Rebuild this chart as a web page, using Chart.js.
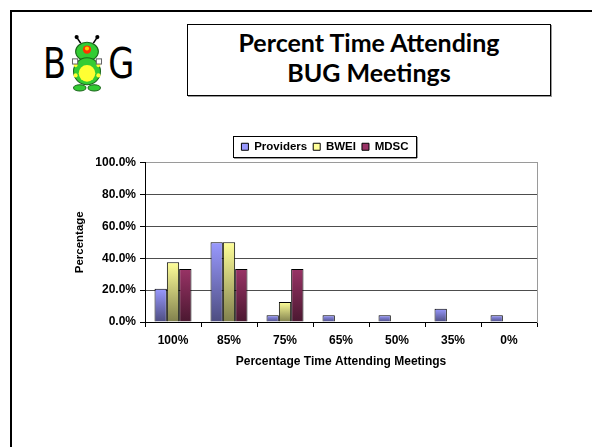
<!DOCTYPE html>
<html><head><meta charset="utf-8">
<script src="https://cdn.jsdelivr.net/npm/chart.js@4"></script>
<style>
html,body{margin:0;padding:0;background:#fff;width:592px;height:447px;overflow:hidden;position:relative;}
#frame{position:absolute;left:10px;top:10px;width:620px;height:480px;border-left:2px solid #000;border-top:2px solid #000;}
#titlebox{position:absolute;left:187px;top:24px;width:364px;height:72px;border:1px solid #000;box-shadow:1px 1px 0 #9a9a9a;
  font-family:Lato,"Open Sans",sans-serif;font-weight:bold;font-size:25px;text-align:center;line-height:30px;color:#000;box-sizing:border-box;padding-top:2px;}
#logo{position:absolute;left:40px;top:33px;height:60px;display:flex;align-items:center;font-family:"DejaVu Sans",sans-serif;font-size:42px;color:#000;}
#logo span{display:inline-block;transform:scaleX(0.8);}
#c{position:absolute;left:0;top:0;}
</style></head>
<body>
<div id="frame"></div>
<div id="logo"><span>B</span>
<svg width="36" height="58" viewBox="0 0 34 56">
 <line x1="11" y1="9" x2="7" y2="3" stroke="#000" stroke-width="1.5"/>
 <line x1="23" y1="9" x2="27" y2="3" stroke="#000" stroke-width="1.5"/>
 <circle cx="7" cy="3" r="2" fill="#000"/><circle cx="27" cy="3" r="2" fill="#000"/>
 <ellipse cx="17" cy="17" rx="11" ry="9" fill="#33cc33" stroke="#1a661a"/>
 <circle cx="17" cy="15" r="4" fill="#ff3300"/><circle cx="17" cy="14" r="2" fill="#ffcc00"/>
 <ellipse cx="17" cy="36" rx="13" ry="13" fill="#33cc33" stroke="#1a661a"/>
 <ellipse cx="17" cy="38" rx="8" ry="8" fill="#ffff33"/>
 <circle cx="6" cy="30" r="2" fill="#ffff33"/><circle cx="28" cy="30" r="2" fill="#ffff33"/>
 <circle cx="6" cy="40" r="2" fill="#ffff33"/><circle cx="28" cy="40" r="2" fill="#ffff33"/>
 <rect x="3" y="24" width="5" height="5" fill="#fff" stroke="#666"/><rect x="26" y="24" width="5" height="5" fill="#fff" stroke="#666"/>
 <ellipse cx="10" cy="52" rx="6" ry="3" fill="#33cc33" stroke="#1a661a"/>
 <ellipse cx="24" cy="52" rx="6" ry="3" fill="#33cc33" stroke="#1a661a"/>
</svg>
<span>G</span></div>
<div id="titlebox">Percent Time Attending<br>BUG Meetings</div>
<canvas id="c" width="592" height="447"></canvas>
<script>
const categories = ['100%', '85%', '75%', '65%', '50%', '35%', '0%'];
const seriesNames = ['Providers', 'BWEI', 'MDSC'];
const providers = [20.8, 50.0, 4.2, 4.2, 4.2, 8.3, 4.2];
const bwei = [37.5, 50.0, 12.5, 0, 0, 0, 0];
const mdsc = [33.3, 33.3, 33.3, 0, 0, 0, 0];
const yTickValues = [0, 20, 40, 60, 80, 100];
const topColors = ['#9999FF', '#FFFF99', '#993366'];
const bottomColors = ['#4D4D80', '#80804D', '#4A1830'];

const FONT = 'Liberation Sans, Arial, sans-serif';

function grad(top, bottom) {
  return ctx => {
    const chart = ctx.chart;
    if (!chart.chartArea || ctx.type !== 'data') return top;
    const ys = chart.scales.y;
    const v = ctx.raw;
    const p0 = ys.getPixelForValue(v), p1 = ys.getPixelForValue(0);
    if (!isFinite(p0) || p1 - p0 < 1) return top;
    const g = chart.ctx.createLinearGradient(0, p0, 0, p1);
    g.addColorStop(0, top); g.addColorStop(1, bottom);
    return g;
  };
}

const seriesData = [providers, bwei, mdsc];
const datasets = seriesData.map((d, i) => ({
  label: seriesNames[i],
  data: d,
  backgroundColor: grad(topColors[i], bottomColors[i]),
  borderColor: '#000',
  borderWidth: ctx => (ctx.raw ? 1 : 0),
  borderSkipped: 'bottom'
}));

const legendFrame = {
  id: 'legendFrame',
  afterLayout(chart) {
    const lg = chart.legend;
    const dx = 325 - (lg.left + lg.right) / 2;
    lg.left += dx; lg.right += dx;
  },
  afterDraw(chart) {
    const hb = chart.legend.legendHitBoxes;
    if (!hb || !hb.length) return;
    const l = hb[0].left, r = hb[hb.length - 1].left + hb[hb.length - 1].width;
    const t = hb[0].top, h = hb[0].height;
    const c = chart.ctx;
    const x0 = Math.round(l - 8), y0 = Math.round(t - 5), w = Math.round(r - l + 16), hh = Math.round(h + 9);
    c.save();
    c.strokeStyle = '#000'; c.lineWidth = 1;
    c.strokeRect(x0 + 0.5, y0 + 0.5, w, hh);
    c.fillStyle = '#9a9a9a';
    c.fillRect(x0 + 1, y0 + hh + 1, w, 1);
    c.fillRect(x0 + w + 1, y0 + 1, 1, hh);
    c.restore();
  }
};

new Chart(document.getElementById('c'), {
  type: 'bar',
  data: { labels: categories, datasets },
  plugins: [legendFrame],
  options: {
    responsive: false,
    animation: false,
    layout: { padding: { top: 135, left: 69, right: 55, bottom: 78 } },
    datasets: { bar: { categoryPercentage: 0.66, barPercentage: 1.0 } },
    plugins: {
      tooltip: { enabled: false },
      legend: {
        position: 'top',
        labels: {
          boxWidth: 7, boxHeight: 7, padding: 6,
          color: '#000',
          font: { family: FONT, weight: 'bold', size: 11.5 },
          generateLabels: chart => seriesNames.map((n, i) => ({
            text: n, fillStyle: topColors[i], strokeStyle: '#000', lineWidth: 1,
            datasetIndex: i, hidden: false
          }))
        }
      }
    },
    scales: {
      x: {
        grid: { offset: true, drawOnChartArea: false, drawTicks: true, tickLength: 5, color: '#000' },
        border: { color: '#000', width: 1 },
        ticks: { color: '#000', padding: 6, font: { family: FONT, weight: 'bold', size: 12 } },
        title: { display: true, text: 'Percentage Time Attending Meetings', color: '#000',
                 font: { family: FONT, weight: 'bold', size: 12 }, padding: { top: 4, bottom: 0 } },
        afterFit: s => { s.height = 47; }
      },
      y: {
        min: 0, max: 100,
        afterBuildTicks: s => { s.ticks = yTickValues.map(v => ({ value: v })); },
        ticks: { color: '#000', padding: 4, font: { family: FONT, weight: 'bold', size: 12 },
                 callback: v => v.toFixed(1) + '%' },
        grid: { color: ctx => (ctx.tick && ctx.tick.value === 100 ? '#9a9a9a' : '#4d4d4d'),
                tickColor: '#000', tickLength: 5, drawTicks: true, lineWidth: 1 },
        border: { color: '#000', width: 1 },
        title: { display: true, text: 'Percentage', color: '#000',
                 font: { family: FONT, weight: 'bold', size: 11.5 }, padding: { top: 4, bottom: 4 } },
        afterFit: s => { s.width = 145 - 69; }
      },
      y2: {
        position: 'right', min: 0, max: 100,
        grid: { display: false },
        ticks: { display: false },
        border: { display: true, color: '#9a9a9a', width: 1 },
        afterFit: s => { s.width = 0; }
      }
    }
  }
});
</script>
</body></html>
